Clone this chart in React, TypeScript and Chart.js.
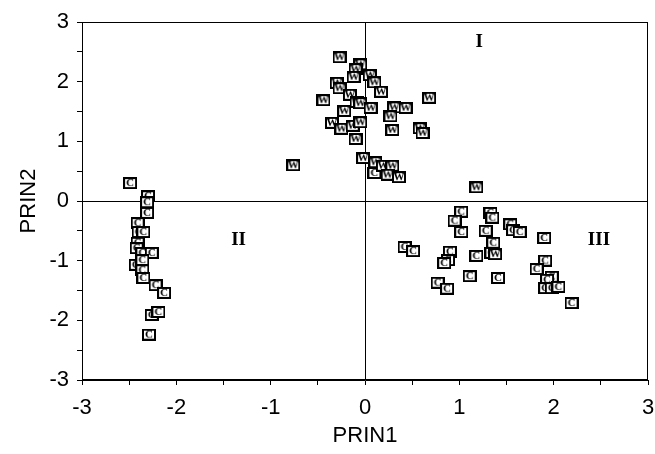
import React, { useEffect, useRef } from "react";
import { Chart, registerables } from "chart.js";
Chart.register(...registerables);

const wX = [-0.27, -0.05, -0.10, -0.12, 0.05, 0.10, -0.30, -0.27, 0.17, -0.16, -0.09, -0.05, 0.06, -0.44, 0.68, -0.22, 0.31, 0.43, 0.27, -0.35, -0.25, -0.13, -0.05, 0.29, 0.58, 0.61, -0.10, -0.76, -0.02, 0.11, 0.19, 0.29, 0.24, 0.36, 1.18, 1.38];
const wY = [2.41, 2.29, 2.21, 2.08, 2.11, 1.99, 1.98, 1.89, 1.83, 1.78, 1.66, 1.64, 1.56, 1.69, 1.73, 1.51, 1.57, 1.56, 1.42, 1.31, 1.21, 1.26, 1.32, 1.19, 1.22, 1.14, 1.04, 0.60, 0.72, 0.65, 0.59, 0.59, 0.44, 0.40, 0.23, -0.89];

const cX = [-2.49, -2.30, -2.31, -2.31, -2.41, -2.40, -2.35, -2.41, -2.42, -2.36, -2.26, -2.43, -2.36, -2.36, -2.35, -2.22, -2.13, -2.26, -2.19, -2.29,
  0.10,
  1.02, 0.95, 1.02, 1.33, 1.35, 1.28, 1.54, 1.57, 1.64, 1.90, 0.42, 0.51, 0.90, 0.88, 0.84, 1.18, 1.36, 1.34, 1.91, 1.82, 1.11, 1.41, 0.77, 0.87, 1.98, 1.93, 1.91, 1.98, 2.05, 2.19];
const cY = [0.30, 0.08, -0.02, -0.20, -0.37, -0.52, -0.52, -0.70, -0.79, -0.87, -0.87, -1.07, -0.99, -1.16, -1.29, -1.41, -1.54, -1.91, -1.86, -2.24,
  0.47,
  -0.18, -0.33, -0.52, -0.20, -0.28, -0.50, -0.39, -0.49, -0.52, -0.62, -0.77, -0.84, -0.85, -0.99, -1.04, -0.92, -0.70, -0.87, -1.00, -1.14, -1.26, -1.29, -1.37, -1.47, -1.27, -1.32, -1.46, -1.46, -1.44, -1.71];

const regionNames = ["I", "II", "III"];
const regionX = [1.21, -1.34, 2.48];
const regionY = [2.66, -0.65, -0.65];

const axisMin = -3;
const axisMax = 3;

function makeMarker(letter: string): HTMLCanvasElement {
  const c = document.createElement("canvas");
  c.width = 14;
  c.height = 12;
  const ctx = c.getContext("2d")!;
  ctx.fillStyle = "#fff";
  ctx.fillRect(0, 0, 14, 12);
  ctx.strokeStyle = "#000";
  ctx.lineWidth = 2;
  ctx.strokeRect(1, 1, 12, 10);
  ctx.fillStyle = "#000";
  ctx.font = "bold 11px 'Liberation Serif'";
  ctx.textAlign = "center";
  ctx.textBaseline = "middle";
  ctx.fillText(letter, 7, 6.5);
  return c;
}

const framePlugin = {
  id: "frameAndLabels",
  afterDatasetsDraw(chart: any) {
    const { ctx, chartArea, scales } = chart;
    ctx.save();
    ctx.strokeStyle = "#000";
    ctx.lineWidth = 1;
    ctx.strokeRect(chartArea.left + 0.5, chartArea.top + 0.5, chartArea.right - chartArea.left - 1, chartArea.bottom - chartArea.top - 1);
    ctx.fillStyle = "#000";
    ctx.font = "bold 19px 'Liberation Serif'";
    ctx.textAlign = "center";
    ctx.textBaseline = "middle";
    regionNames.forEach((n, i) => {
      ctx.fillText(n, scales.x.getPixelForValue(regionX[i]), scales.y.getPixelForValue(regionY[i]));
    });
    ctx.restore();
  },
};

export default function App() {
  const ref = useRef<HTMLCanvasElement>(null);
  useEffect(() => {
    const wMarker = makeMarker("W");
    const cMarker = makeMarker("C");
    const tickFont = { family: "'Liberation Sans', Arial, sans-serif", size: 22 };
    const titleFont = { family: "'Liberation Sans', Arial, sans-serif", size: 22 };
    const gridCfg = {
      color: (c: any) => (c.tick && c.tick.value === 0 ? "#000" : "rgba(0,0,0,0)"),
      tickColor: "#000",
      tickLength: 5,
      lineWidth: 1,
    };
    const label = (v: any) => (Number.isInteger(Number(v)) ? String(v) : "");
    const chart = new Chart(ref.current!, {
      type: "scatter",
      data: {
        datasets: [
          {
            label: "W",
            data: wX.map((x, i) => ({ x, y: wY[i] })),
            pointStyle: wMarker as any,
            pointRadius: 6,
          },
          {
            label: "C",
            data: cX.map((x, i) => ({ x, y: cY[i] })),
            pointStyle: cMarker as any,
            pointRadius: 6,
          },
        ],
      },
      plugins: [framePlugin],
      options: {
        animation: false,
        responsive: false,
        layout: { padding: { top: 22, right: 5, left: 0, bottom: 0 } },
        plugins: { legend: { display: false }, tooltip: { enabled: false } },
        scales: {
          x: {
            type: "linear",
            min: axisMin,
            max: axisMax,
            grid: gridCfg as any,
            border: { color: "#000", width: 1 },
            ticks: { stepSize: 0.5, color: "#000", font: tickFont, padding: 10, maxRotation: 0, autoSkip: false, callback: label },
            title: { display: true, text: "PRIN1", color: "#000", font: titleFont, padding: { top: 0, bottom: 5 } },
            afterFit: (s: any) => { s.height = 74; s.paddingLeft = 0; s.paddingRight = 0; },
          },
          y: {
            type: "linear",
            min: axisMin,
            max: axisMax,
            grid: gridCfg as any,
            border: { color: "#000", width: 1 },
            ticks: { stepSize: 0.5, color: "#000", font: tickFont, padding: 8, autoSkip: false, callback: label },
            title: { display: true, text: "PRIN2", color: "#000", font: titleFont, padding: { top: 16, bottom: 0 } },
            afterFit: (s: any) => { s.width = 82; s.paddingTop = 0; s.paddingBottom = 0; },
          },
        },
      },
    });
    return () => chart.destroy();
  }, []);
  return (
    <div style={{ position: "fixed", left: 0, top: 0, width: 655, height: 454, background: "#fff" }}>
      <canvas ref={ref} width={655} height={454} style={{ display: "block" }} />
    </div>
  );
}
